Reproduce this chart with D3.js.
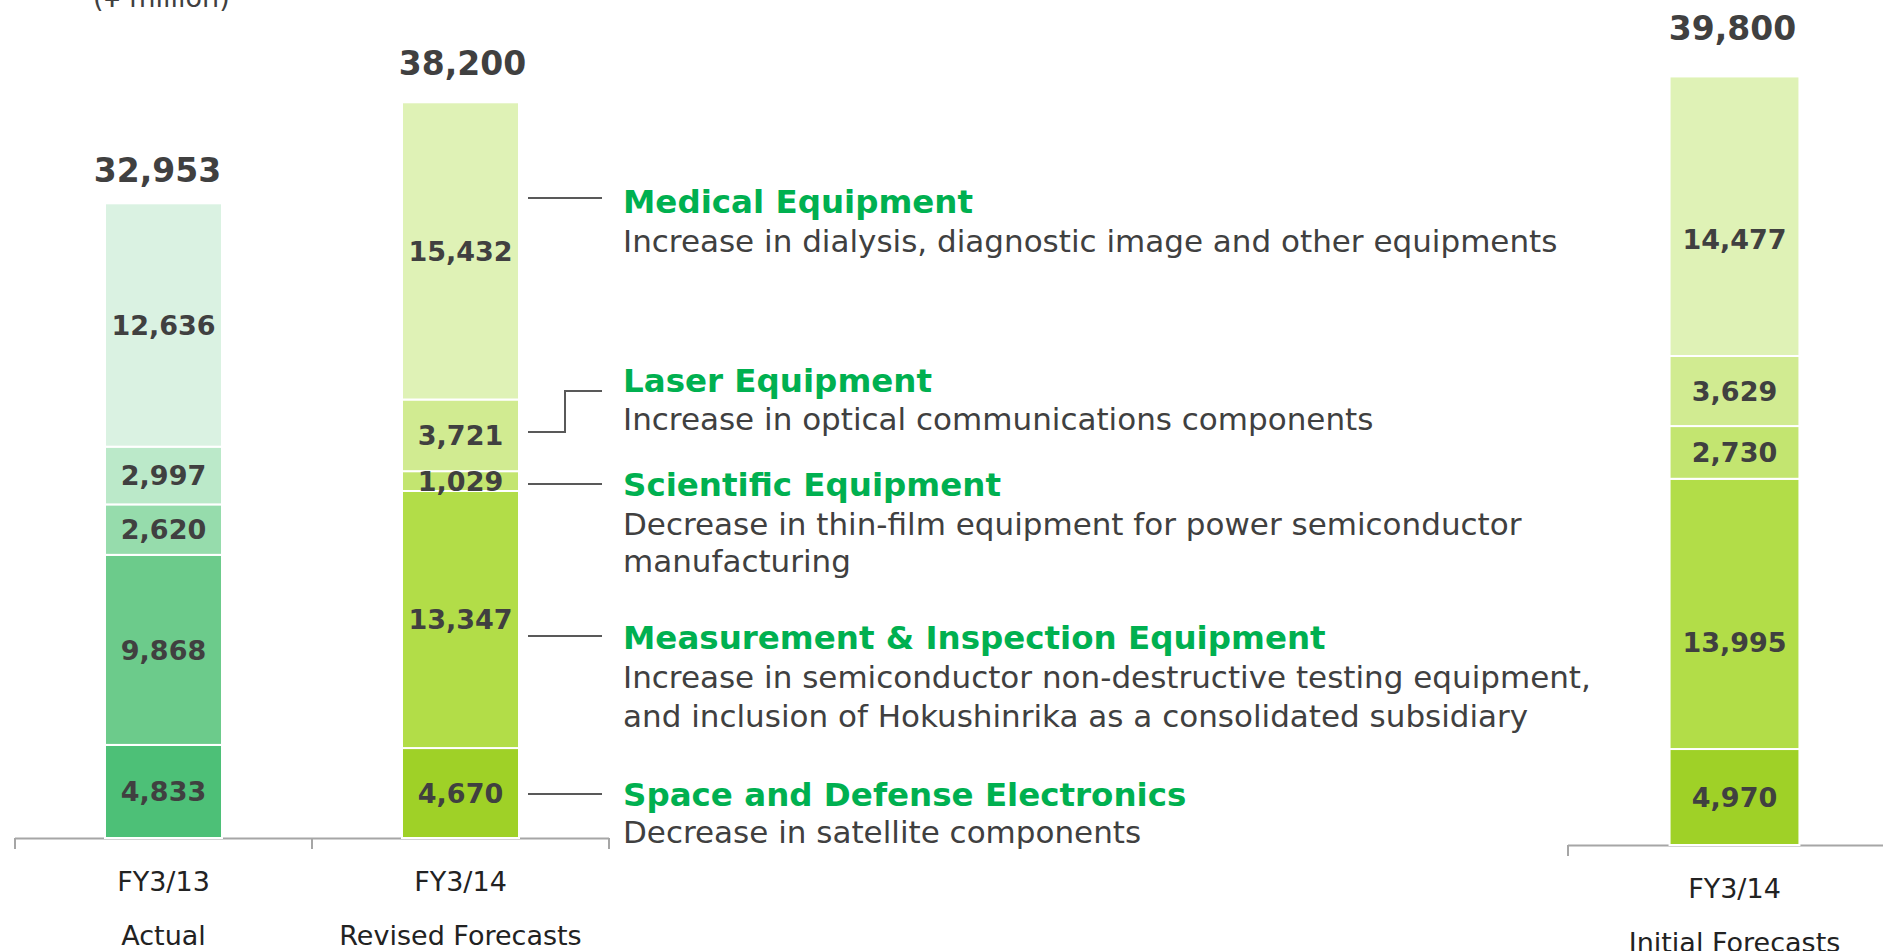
<!DOCTYPE html>
<html><head><meta charset="utf-8">
<script src="https://cdn.jsdelivr.net/npm/d3@7"></script>
<style>
html,body{margin:0;padding:0;background:#fff;overflow:hidden;}
svg{display:block;font-family:"DejaVu Sans",Verdana,sans-serif;}
</style>
</head><body>
<svg id="chart" width="1883" height="951"></svg>
<script>
// ---------- data ----------
const segments = ["Space and Defense Electronics", "Measurement & Inspection Equipment", "Scientific Equipment", "Laser Equipment", "Medical Equipment"];
const leftCategories = ["FY3/13|Actual", "FY3/14|Revised Forecasts"];
const rightCategories = ["FY3/14|Initial Forecasts"];
const actualFY13 = [4833, 9868, 2620, 2997, 12636];
const revisedFY14 = [4670, 13347, 1029, 3721, 15432];
const initialFY14 = [4970, 13995, 2730, 3629, 14477];
const totals = [32953, 38200, 39800];
const unitLabel = "(¥ million)";
const annotationTitles = ["Medical Equipment", "Laser Equipment", "Scientific Equipment", "Measurement & Inspection Equipment", "Space and Defense Electronics"];
const annotationTexts = [
  ["Increase in dialysis, diagnostic image and other equipments"],
  ["Increase in optical communications components"],
  ["Decrease in thin-film equipment for power semiconductor", "manufacturing"],
  ["Increase in semiconductor non-destructive testing equipment,", "and inclusion of Hokushinrika as a consolidated subsidiary"],
  ["Decrease in satellite components"]
];

// ---------- styles / layout ----------
const actualColors = ["#4dc077", "#6ccb8b", "#96dcac", "#bbe9c9", "#daf2e2"];
const forecastColors = ["#9fd127", "#b2dd48", "#c3e570", "#d1eb91", "#dff2b6"];
const valueColor = "#404040";
const titleColor = "#00b050";
const axisColor = "#a6a6a6";
const totalGap = [21, 27, 36];
const totalDx = [-6, 2, -2];
// vertical nudges of segment labels (per bar, per segment), in px
const labelDy = [[0, 0, 0, 0, 0], [0, 0, 0, 0, 0], [0, 28, 0, 0, 23]];
// annotation layout
const annLayout = [
  {line: 198, title: 213, desc: [252]},
  {line: 391, low: 432, title: 392, desc: [430]},
  {line: 484, title: 496, desc: [534.5, 571.5]},
  {line: 636, title: 649, desc: [688, 726.5]},
  {line: 794, title: 806, desc: [843]}
];

const svg = d3.select("#chart");

function stackOf(values) {
  let acc = 0;
  return values.map((v, i) => { const s = {i, v, y0: acc, y1: acc + v}; acc += v; return s; });
}

function drawPanel(cats, seriesList, colorsList, x, y, baseY, totalIdx) {
  const g = svg.append("g");
  const [r0, r1] = x.range();
  g.append("line").attr("x1", r0).attr("x2", Math.min(r1, 1883)).attr("y1", baseY + 0.5).attr("y2", baseY + 0.5)
    .attr("stroke", axisColor).attr("stroke-width", 2);
  const bounds = d3.range(cats.length + 1).map(k => r0 + k * x.step()).filter(b => b <= 1883);
  g.selectAll(".tick").data(bounds).join("line")
    .attr("x1", d => d).attr("x2", d => d).attr("y1", baseY).attr("y2", baseY + 11)
    .attr("stroke", axisColor).attr("stroke-width", 2);

  cats.forEach((c, ci) => {
    const st = stackOf(seriesList[ci]);
    const colors = colorsList[ci];
    const ti = totalIdx + ci;
    const bx = x(c), bw = x.bandwidth();
    const bg = g.append("g");
    bg.selectAll("rect").data(st).join("rect")
      .attr("x", bx).attr("width", bw)
      .attr("y", d => y(d.y1))
      .attr("height", d => y(d.y0) - y(d.y1))
      .attr("fill", d => colors[d.i])
      .attr("stroke", "#fff").attr("stroke-width", 2);
    bg.selectAll("text").data(st).join("text")
      .attr("x", bx + bw / 2).attr("y", d => (y(d.y0) + y(d.y1)) / 2 + labelDy[ti][d.i])
      .attr("dy", "0.36em").attr("text-anchor", "middle")
      .attr("font-size", 27).attr("font-weight", "bold").attr("fill", valueColor)
      .text(d => d3.format(",")(d.v));
    g.append("text")
      .attr("x", bx + bw / 2 + totalDx[ti]).attr("y", y(totals[ti]) - totalGap[ti])
      .attr("text-anchor", "middle").attr("font-size", 33).attr("font-weight", "bold").attr("fill", valueColor)
      .text(d3.format(",")(totals[ti]));
    const parts = c.split("|");
    g.append("text").attr("x", bx + bw / 2).attr("y", baseY + 53)
      .attr("text-anchor", "middle").attr("font-size", 27).attr("fill", "#222").text(parts[0]);
    g.append("text").attr("x", bx + bw / 2).attr("y", baseY + 107)
      .attr("text-anchor", "middle").attr("font-size", 27).attr("fill", "#222").text(parts[1]);
  });
}

// left panel
const xL = d3.scaleBand().domain(leftCategories).range([15, 609]).paddingInner(0.606).paddingOuter(0.303);
const yL = d3.scaleLinear().domain([0, 40000]).range([838, 838 - 40000 * 0.01926]);
drawPanel(leftCategories, [actualFY13, revisedFY14], [actualColors, forecastColors], xL, yL, 838, 0);

// right panel
const xR = d3.scaleBand().domain(rightCategories).range([1568, 1901]).paddingInner(0.61).paddingOuter(0.305);
const yR = d3.scaleLinear().domain([0, 40000]).range([845, 845 - 40000 * 0.01931]);
drawPanel(rightCategories, [initialFY14], [forecastColors], xR, yR, 845, 2);

// unit label
svg.append("text").attr("x", 93).attr("y", 7).attr("font-size", 27).attr("fill", valueColor).text(unitLabel);

// annotations
const lineX0 = xL(leftCategories[1]) + xL.bandwidth() + 9;
const lineX1 = lineX0 + 74;
const textX = 623;
const ag = svg.append("g");
annotationTitles.forEach((t, i) => {
  const L = annLayout[i];
  if (L.low !== undefined) {
    const elbow = lineX0 + 37;
    ag.append("path").attr("d", `M${lineX0},${L.low}H${elbow}V${L.line}H${lineX1}`)
      .attr("fill", "none").attr("stroke", "#595959").attr("stroke-width", 2);
  } else {
    ag.append("line").attr("x1", lineX0).attr("x2", lineX1).attr("y1", L.line).attr("y2", L.line)
      .attr("stroke", "#595959").attr("stroke-width", 2);
  }
  ag.append("text").attr("x", textX).attr("y", L.title).attr("font-size", 32.5).attr("font-weight", "bold")
    .attr("fill", titleColor).text(t);
  annotationTexts[i].forEach((s, k) => {
    ag.append("text").attr("x", textX).attr("y", L.desc[k]).attr("font-size", 31)
      .attr("fill", valueColor).text(s);
  });
});
</script>
</body></html>
